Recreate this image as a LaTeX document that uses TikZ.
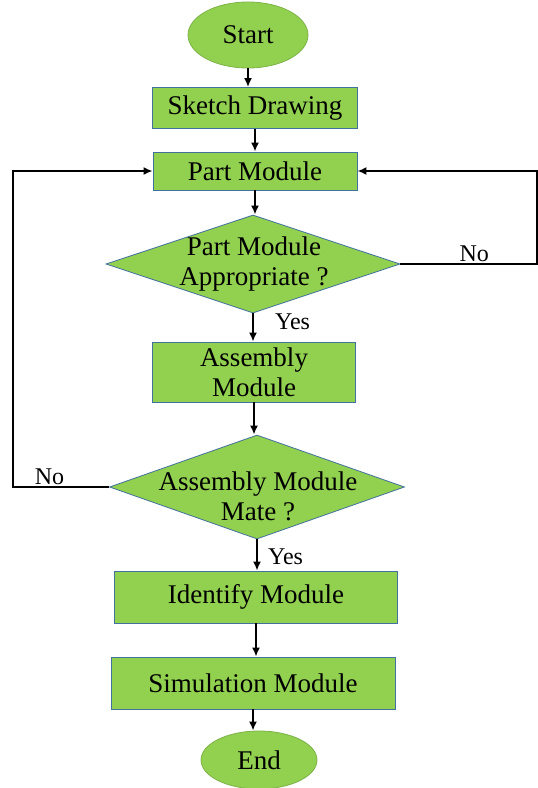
\documentclass[tikz,border=0pt]{standalone}
\usepackage{fontspec}
\setmainfont{LiberationSerif}[Extension=.ttf, UprightFont=*-Regular, BoldFont=*-Bold]
\usetikzlibrary{arrows.meta}
\usetikzlibrary{shapes.geometric}
\definecolor{gruen}{HTML}{92D050}
\definecolor{rand}{HTML}{41719C}
\definecolor{ovalrand}{HTML}{7CB346}

\begin{document}
\begin{tikzpicture}[x=1pt, y=-1pt,
	box/.style={draw=rand, fill=gruen, line width=0.8pt, rectangle, inner sep=0pt, align=center, font=\fontsize{27}{30}\selectfont},
	oval/.style={draw=ovalrand, fill=gruen, line width=0.8pt, ellipse, inner sep=0pt, font=\fontsize{27}{30}\selectfont},
	raute/.style={draw=rand, fill=gruen, line width=0.8pt, diamond, inner sep=0pt},
	txt/.style={align=center, inner sep=0pt, font=\fontsize{27}{30}\selectfont},
	lbl/.style={inner sep=1pt, font=\fontsize{24}{28}\selectfont},
	pfeil/.style={line width=2.2pt, -{Latex[length=9pt,width=8pt]}}]

	\useasboundingbox (0,0) rectangle (538,788);

	% Knoten
	\node[oval, minimum width=120pt, minimum height=66pt] (start) at (248,35) {Start};
	\node[box, minimum width=205pt, minimum height=41pt] (sketch) at (255,108) {Sketch Drawing};
	\node[box, minimum width=204pt, minimum height=38pt] (part) at (255,171) {Part Module};

	\node[raute, minimum width=294pt, minimum height=98pt] (d1) at (253,264) {};
	\node[txt] (d1t) at (254,264) {Part Module\\Appropriate ?};

	\node[box, minimum width=203pt, minimum height=60pt] (assembly) at (254,372) {Assembly\\Module};

	\node[raute, minimum width=295pt, minimum height=104pt] (d2) at (257,487) {};
	\node[txt] (d2t) at (258,496) {Assembly Module\\Mate ?};

	\node[box, minimum width=283pt, minimum height=52pt] (identify) at (256,597) {Identify Module};
	\node[box, minimum width=284pt, minimum height=52pt] (simulation) at (253,683) {Simulation Module};
	\node[oval, minimum width=116pt, minimum height=58pt] (end) at (259,760) {End};

	\coordinate (cR) at (537,171);
	\coordinate (cL) at (13,171);

	% Verbindungen
	\draw[pfeil] (start.south) -- (start.south |- sketch.north);
	\draw[pfeil] (sketch.south) -- (sketch.south |- part.north);
	\draw[pfeil] (part.south) -- (part.south |- d1.north);
	\draw[pfeil] (d1.south) -- node[lbl, right=20pt, pos=0.3] {Yes} (d1.south |- assembly.north);
	\draw[pfeil] (assembly.south) -- (assembly.south |- d2.north);
	\draw[pfeil] (d2.south) -- node[lbl, right=9pt, pos=0.55] {Yes} (d2.south |- identify.north);
	\draw[pfeil] (identify.south) -- (identify.south |- simulation.north);
	\draw[pfeil] (simulation.south) -- (simulation.south |- end.north);

	% Rueckfuehrungen
	\draw[pfeil] (d1.east) -| node[lbl, above, pos=0.27] {No} (cR) -- (part.east);
	\draw[pfeil] (d2.west) -| node[lbl, above, pos=0.31] {No} (cL) -- (part.west);
\end{tikzpicture}
\end{document}
